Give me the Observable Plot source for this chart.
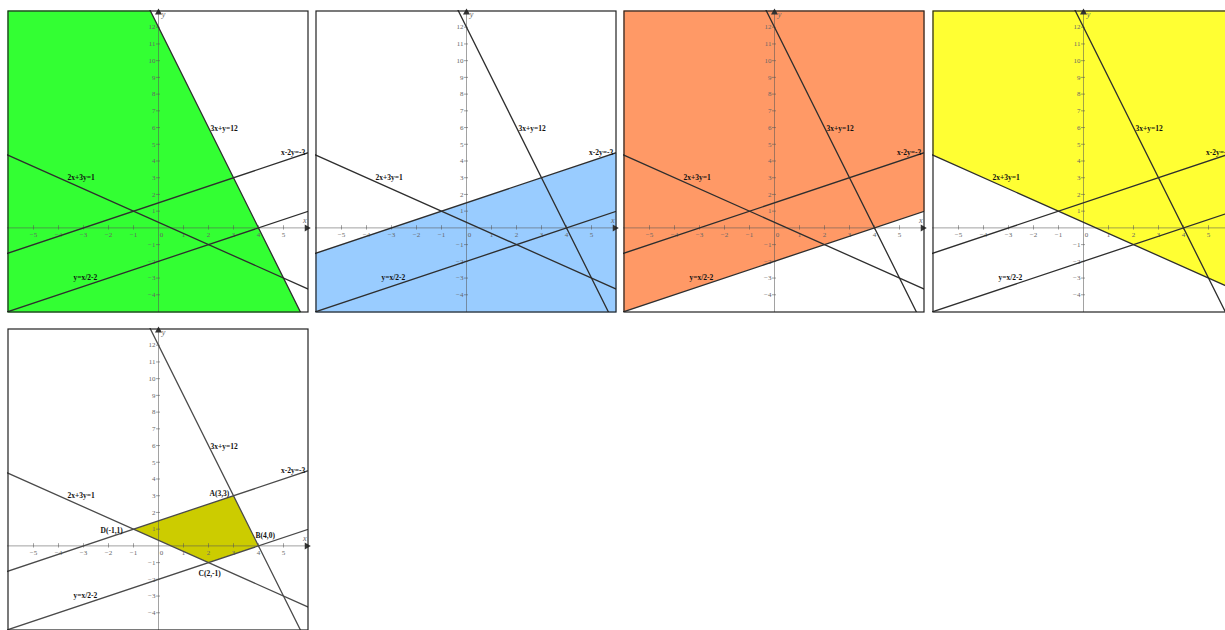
<!DOCTYPE html>
<html>
<head>
<meta charset="utf-8">
<script src="https://cdn.jsdelivr.net/npm/d3@7"></script>
<script src="https://cdn.jsdelivr.net/npm/@observablehq/plot@0.6"></script>
<style>
  html, body { margin: 0; padding: 0; background: #fff; width: 1225px; height: 630px; overflow: hidden; }
  .panel { position: absolute; width: 301px; height: 302px; }
</style>
</head>
<body>
<div id="root"></div>
<script>
// ---- data ----
const xTicks = [-5, -4, -3, -2, -1, 0, 1, 2, 3, 4, 5];
const yTicks = [-4, -3, -2, -1, 1, 2, 3, 4, 5, 6, 7, 8, 9, 10, 11, 12];
// lines as a*x + b*y = c
const lineNames = ["3x+y=12", "x-2y=-3", "2x+3y=1", "y=x/2-2"];
const lineA = [3, 1, 2, -0.5];
const lineB = [1, -2, 3, 1];
const lineC = [12, -3, 1, -2];
// label anchors (left end of text) in data units
const lineLabelX = [2.08, 4.9, -3.64, -3.4];
const lineLabelY = [5.95, 4.5, 3.0, -3.0];
// shaded half-planes per panel: [line index, sense]
const panelFills = ["#33ff33", "#99ccff", "#ff9966", "#ffff33", "#cccc00"];
const panelConstraints = [
  [[0, "<="]],
  [[1, ">="]],
  [[3, ">="]],
  [[2, ">="]],
  [[0, "<="], [1, ">="], [3, ">="], [2, ">="]]
];
const vertexNames = ["A(3,3)", "B(4,0)", "C(2,-1)", "D(-1,1)"];
const vertexLabelX = [2.04, 3.88, 1.6, -2.32];
const vertexLabelY = [3.15, 0.64, -1.63, 0.93];

const xDomain = [-6.04, 6.0];
const yDomain = [-5.06, 13.0];

// ---- geometry helpers ----
function clipHalfPlane(poly, a, b, c) { // keep a*x+b*y <= c
  const out = [];
  for (let i = 0; i < poly.length; i++) {
    const p = poly[i], q = poly[(i + 1) % poly.length];
    const fp = a * p[0] + b * p[1] - c, fq = a * q[0] + b * q[1] - c;
    if (fp <= 0) out.push(p);
    if ((fp < 0 && fq > 0) || (fp > 0 && fq < 0)) {
      const t = fp / (fp - fq);
      out.push([p[0] + t * (q[0] - p[0]), p[1] + t * (q[1] - p[1])]);
    }
  }
  return out;
}
function region(constraints) {
  let poly = [[xDomain[0], yDomain[0]], [xDomain[1], yDomain[0]], [xDomain[1], yDomain[1]], [xDomain[0], yDomain[1]]];
  for (const [i, s] of constraints) {
    const k = s === "<=" ? 1 : -1;
    poly = clipHalfPlane(poly, k * lineA[i], k * lineB[i], k * lineC[i]);
  }
  return poly.map(([x, y]) => ({x, y}));
}
function lineSegment(i) {
  // two points at the domain's x ends (or y ends for steep lines), clipped by the plot
  const pts = [];
  if (lineB[i] !== 0) {
    for (const x of [xDomain[0] - 1, xDomain[1] + 1]) pts.push({x, y: (lineC[i] - lineA[i] * x) / lineB[i], id: i});
  }
  return pts;
}

const lineLabels = lineNames.map((t, i) => ({t, x: lineLabelX[i], y: lineLabelY[i]}));
const vertexLabels = vertexNames.map((t, i) => ({t, x: vertexLabelX[i], y: vertexLabelY[i]}));

const lefts = [7, 315, 623, 932, 7];
const tops = [10, 10, 10, 10, 328];

const root = document.getElementById("root");
panelFills.forEach((fill, p) => {
  const poly = region(panelConstraints[p]);
  const marks = [
    Plot.areaY([], {}),
    Plot.line(poly.concat([poly[0]]), {x: "x", y: "y", fill, stroke: "none", curve: "linear-closed"}),
    // axes
    Plot.ruleY([0], {stroke: "#555", strokeOpacity: 0.55, strokeWidth: 1}),
    Plot.ruleX([0], {stroke: "#555", strokeOpacity: 0.55, strokeWidth: 1}),
    Plot.ruleX(xTicks.filter(d => d !== 0), {x: d => d, y1: -0.13, y2: 0.13, stroke: "#555", strokeOpacity: 0.55}),
    Plot.ruleY(yTicks, {y: d => d, x1: -0.08, x2: 0.08, stroke: "#555", strokeOpacity: 0.55}),
    Plot.text(xTicks.filter(d => d !== 0), {x: d => d, y: 0, text: d => d < 0 ? "\u2212" + (-d) : String(d), dy: 7, fontSize: 7, fill: "#666", fontFamily: "Liberation Serif"}),
    Plot.text([0], {x: 0, y: 0, text: d => "0", dy: 7, dx: 3, fontSize: 7, fill: "#666", fontFamily: "Liberation Serif"}),
    Plot.text(yTicks, {x: 0, y: d => d, text: d => d < 0 ? "\u2212" + (-d) : String(d), dx: -3, textAnchor: "end", fontSize: 7, fill: "#666", fontFamily: "Liberation Serif"}),
    Plot.dot([{x: 5.93, y: 0}], {x: "x", y: "y", symbol: "triangle", rotate: 90, r: 2.6, fill: "#333", stroke: "none"}),
    Plot.dot([{x: 0, y: 12.88}], {x: "x", y: "y", symbol: "triangle", r: 2.6, fill: "#333", stroke: "none"}),
    Plot.text([{x: 5.85, y: 0}], {x: "x", y: "y", text: d => "x", dy: -7, fontSize: 8, fontStyle: "italic", fill: "#666", fontFamily: "Liberation Serif"}),
    Plot.text([{x: 0, y: 12.74}], {x: "x", y: "y", text: d => "y", dx: 5, fontSize: 8, fontStyle: "italic", fill: "#666", fontFamily: "Liberation Serif"}),
    // constraint lines
    ...lineNames.map((_, i) => Plot.line(lineSegment(i), {x: "x", y: "y", stroke: p === 4 ? "#4a4a4a" : "#2e2e2e", strokeWidth: 1.3, clip: true})),
    Plot.text(lineLabels, {x: "x", y: "y", text: "t", textAnchor: "start", fontSize: 7.5, fontWeight: "bold", fill: "#111", fontFamily: "Liberation Serif"}),
    ...(p === 4 ? [Plot.text(vertexLabels, {x: "x", y: "y", text: "t", textAnchor: "start", fontSize: 7.5, fontWeight: "bold", fill: "#111", fontFamily: "Liberation Serif"})] : []),
    Plot.frame({stroke: "#222", strokeWidth: 1.2, inset: 0.5})
  ];
  const chart = Plot.plot({
    width: 301, height: 302, margin: 0,
    x: {domain: xDomain, axis: null},
    y: {domain: yDomain, axis: null},
    style: {background: "white", overflow: "visible"},
    marks
  });
  const div = document.createElement("div");
  div.className = "panel";
  div.style.left = lefts[p] + "px";
  div.style.top = tops[p] + "px";
  div.appendChild(chart);
  root.appendChild(div);
});
</script>
</body>
</html>
